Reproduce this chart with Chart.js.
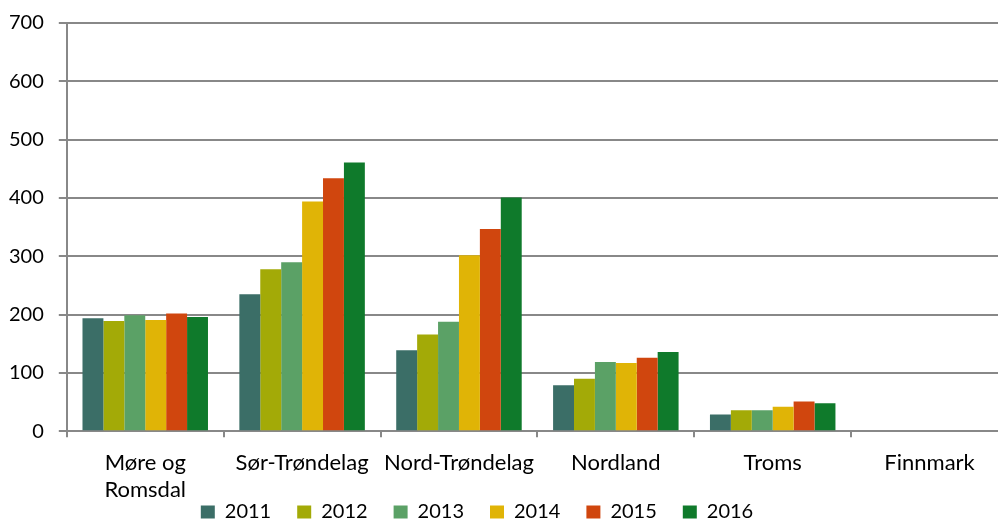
<!DOCTYPE html>
<html>
<head>
<meta charset="utf-8">
<script src="https://cdn.jsdelivr.net/npm/chart.js@4"></script>
<style>
  html, body { margin: 0; padding: 0; background: #fff; overflow: hidden; }
  #wrap { position: relative; top: -4px; width: 1010px; height: 524px; }
</style>
</head>
<body>
<div id="wrap"><canvas id="barChart"></canvas></div>
<script>
const regions = [['Møre og', 'Romsdal'], 'Sør-Trøndelag', 'Nord-Trøndelag', 'Nordland', 'Troms', 'Finnmark'];
const years = ['2011', '2012', '2013', '2014', '2015', '2016'];
const colors = ['#3B6E67', '#A3AA07', '#5BA166', '#E0B406', '#D0460E', '#0F7A2B'];

const v2011 = [194, 235, 139, 79, 29, 0];
const v2012 = [189, 278, 166, 90, 36, 0];
const v2013 = [199, 290, 188, 119, 36, 0];
const v2014 = [191, 394, 302, 117, 42, 0];
const v2015 = [202, 434, 347, 126, 51, 0];
const v2016 = [196, 461, 401, 136, 48, 0];
const series = [v2011, v2012, v2013, v2014, v2015, v2016];

const yTicks = [0, 100, 200, 300, 400, 500, 600, 700];

const fam = 'Lato, "Open Sans", sans-serif';

// move the legend left and up so it sits beside "Romsdal", like in the original
const legendShift = {
    id: 'legendShift',
    afterLayout(chart) {
        const lg = chart.legend;
        lg.left -= 24;
        lg.right -= 24;
        lg.top -= 39;
        lg.bottom -= 39;
    }
};

const ctx = document.getElementById('barChart').getContext('2d');
new Chart(ctx, {
    type: 'bar',
    data: {
        labels: regions,
        datasets: series.map((vals, i) => ({
            label: years[i],
            data: vals,
            backgroundColor: colors[i],
            borderWidth: 0,
            categoryPercentage: 0.8,
            barPercentage: 1.0
        }))
    },
    options: {
        responsive: true,
        maintainAspectRatio: false,
        animation: false,
        layout: { padding: { top: 0, right: 2, left: -6, bottom: -51 } },
        plugins: {
            tooltip: { enabled: false },
            legend: {
                position: 'bottom',
                labels: {
                    boxWidth: 14,
                    boxHeight: 13,
                    padding: 26,
                    color: '#000',
                    font: { family: fam, size: 20 }
                }
            }
        },
        scales: {
            x: {
                grid: {
                    drawOnChartArea: false,
                    drawTicks: true,
                    tickLength: 6,
                    color: '#888',
                    lineWidth: 2
                },
                border: { color: '#888', width: 2 },
                ticks: { color: '#000', font: { family: fam, size: 22, lineHeight: 1.22 }, padding: 12, maxRotation: 0, autoSkip: false }
            },
            y: {
                min: 0,
                max: 700,
                afterBuildTicks: axis => { axis.ticks = yTicks.map(v => ({ value: v })); },
                grid: {
                    color: '#888',
                    lineWidth: 2,
                    tickLength: 8
                },
                border: { color: '#888', width: 2 },
                ticks: { color: '#000', font: { family: fam, size: 20 }, padding: 15 }
            }
        }
    },
    plugins: [legendShift]
});
</script>
</body>
</html>
